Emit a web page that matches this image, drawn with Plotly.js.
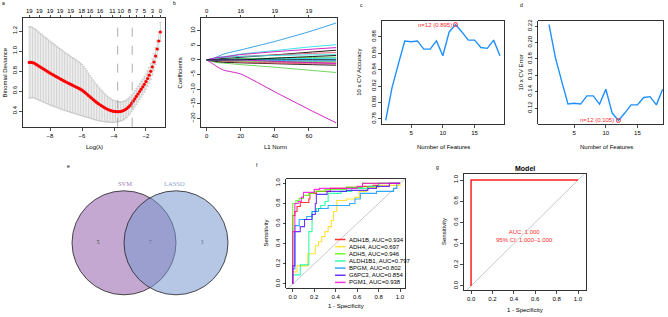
<!DOCTYPE html>
<html><head><meta charset="utf-8">
<script src="https://cdn.plot.ly/plotly-3.0.1.min.js"></script>
<style>html,body{margin:0;padding:0;background:#fff}#chart{width:668px;height:317px}</style>
</head><body><div id="chart"></div>
<script>
// ---------- Panel a: LASSO CV ----------
const logLambda = [-9.3,-9.2,-9.1,-9.0,-8.9,-8.8,-8.7,-8.6,-8.5,-8.4,-8.3,-8.2,-8.1,-8.0,-7.9,-7.8,-7.7,-7.6,-7.5,-7.4,-7.3,-7.2,-7.1,-7.0,-6.9,-6.8,-6.7,-6.6,-6.5,-6.4,-6.3,-6.2,-6.1,-6.0,-5.9,-5.8,-5.7,-5.6,-5.5,-5.4,-5.3,-5.2,-5.1,-5.0,-4.9,-4.8,-4.7,-4.6,-4.5,-4.4,-4.3,-4.2,-4.1,-4.0,-3.9,-3.8,-3.7,-3.6,-3.5,-3.4,-3.3,-3.2,-3.1,-3.0,-2.9,-2.8,-2.7,-2.6,-2.5,-2.4,-2.3,-2.2,-2.1,-2.0,-1.9,-1.8,-1.7,-1.6,-1.5,-1.4,-1.3,-1.2,-1.1];
const binomialDeviance = [0.886,0.886,0.884,0.879,
 0.869,0.859,0.849,0.839,0.829,0.819,0.809,0.799,0.789,0.779,
 0.770,0.761,0.752,0.743,0.734,0.725,0.716,0.707,0.698,0.690,
 0.682,0.674,0.666,0.658,0.650,0.642,0.634,0.626,0.618,0.608,
 0.596,0.583,0.570,0.556,0.542,0.528,0.514,0.501,0.488,0.476,
 0.465,0.454,0.444,0.434,0.425,0.417,0.410,0.404,0.399,0.396,
 0.394,0.393,0.393,0.395,0.399,0.405,0.413,0.424,0.438,0.455,
 0.476,0.498,0.522,0.546,0.570,0.594,0.618,0.642,0.667,0.694,
 0.724,0.758,0.797,0.841,0.890,0.950,1.020,1.100,1.190];
const devianceSE = [0.358,0.355,0.352,0.349,0.346,0.343,0.340,0.337,0.334,0.331,0.328,0.325,0.322,0.319,0.316,0.313,0.310,0.307,0.304,0.301,0.298,0.295,0.292,0.289,0.286,0.283,0.280,0.277,0.274,0.271,0.268,0.265,0.262,0.258,
 0.250,0.241,0.232,0.223,0.214,0.205,0.196,0.188,0.180,0.172,
 0.164,0.156,0.149,0.142,0.135,0.129,0.123,0.118,0.113,0.109,
 0.105,0.102,0.099,0.096,0.094,0.092,0.090,0.088,0.086,0.085,
 0.084,0.083,0.082,0.081,0.080,0.080,0.079,0.079,0.078,0.078,
 0.078,0.079,0.080,0.081,0.083,0.085,0.088,0.091,0.095];
const countTickPos = [-9.3,-8.67,-8.0,-7.375,-6.71,-6.02,-5.5,-4.875,-4.1,-3.58,-3.04,-2.58,-2.1,-1.6,-1.1];
const countTickText = ['19','19','19','19','19','18','16','16','11','10','8','7','5','3','0'];
const lambdaMinLog = -3.77, lambda1seLog = -2.86;

// ---------- Panel b: LASSO coefficient paths ----------
const l1Norm = [0,3,6,10,20,40,60,76];
const coefPaths = [
 [0,0.2,0.4,0.5,0.9,1.7,2.6,3.3],
 [0,-0.3,-0.5,-0.6,-0.7,-0.8,-0.9,-1.0],
 [0,-0.5,-0.9,-1.1,-1.6,-2.5,-3.5,-4.3],
 [0,0.3,1.0,2.0,3.4,6.3,9.6,12.6],
 [0,0.4,0.8,1.1,2.0,3.2,4.4,5.2],
 [0,-1.1,-2.3,-3.5,-4.8,-10.9,-16.9,-21.5],
 [0,-0.3,-0.6,-0.8,-1.0,-1.3,-1.6,-1.8],
 [0,0.3,0.6,0.8,1.2,1.7,2.2,2.5],
 [0,0,-0.2,-0.4,-0.6,-0.6,-0.6,-0.6],
 [0,0,0,0.2,0.5,0.4,0.3,0.3],
 [0,0.2,0.5,0.8,1.2,1.5,1.7,1.8],
 [0,0.4,0.8,1.0,1.8,2.8,3.6,4.2],
 [0,0,0.1,0.3,0.2,0.1,0.05,0.0],
 [0,0,-0.2,-0.4,-0.8,-1.1,-1.3,-1.4],
 [0,0,0,0.2,0.4,0.6,0.8,0.9],
 [0,0,0,0,0,-0.2,-0.3,-0.3],
 [0,0,0,0,0.1,0.3,0.5,0.6],
 [0,0,0,0,0,-0.5,-0.9,-1.2],
 [0,0,0,0,0,0.6,1.1,1.5]];
const pathColors = ['#000000','#DF536B','#61D04F','#2297E6','#28E2E5','#CD0BBC'];
const l1TickPos = [0,20,40,60];
const l1TickText = ['0','16','19','19'];

// ---------- Panels c, d: SVM-RFE ----------
const nFeatures = [1,2,3,4,5,6,7,8,9,10,11,12,13,14,15,16,17,18,19];
const cvAccuracy = [0.778,0.818,0.847,0.875,0.874,0.875,0.865,0.865,0.875,0.857,0.886,0.895,0.886,0.876,0.876,0.867,0.866,0.876,0.857];
const cvError = [0.222,0.182,0.153,0.125,0.126,0.125,0.135,0.135,0.125,0.143,0.114,0.105,0.114,0.124,0.124,0.133,0.134,0.124,0.143];

// ---------- Panel e: Venn ----------
const vennSets = ['SVM','LASSO'];
const vennCounts = [5,7,3];

// ---------- Panel f: ROC per gene ----------
const rocGenes = ['ADH1B','ADH4','ADH5','ALDH1B1','BPGM','G6PC3','PGM1'];
const rocAUC = [0.934,0.697,0.946,0.797,0.802,0.854,0.938];
const rocColors = ['#FF0000','#FFDB00','#49FF00','#00FF92','#0092FF','#4900FF','#FF00DB'];
const fprADH1B = [0,0,0.02,0.04,0.07,0.15,0.16,0.22,0.35,0.5,0.65,0.75,0.8,1];
const tprADH1B = [0,0.68,0.72,0.77,0.81,0.845,0.9,0.92,0.95,0.96,0.97,0.98,1,1];
const fprADH4 = [0,0,0.04,0.14,0.21,0.24,0.27,0.30,0.33,0.36,0.38,0.41,0.5,0.58,0.62,0.69,0.8,1];
const tprADH4 = [0,0.12,0.18,0.30,0.38,0.42,0.47,0.52,0.57,0.63,0.72,0.83,0.845,0.86,0.92,0.96,0.98,1];
const fprADH5 = [0,0,0.03,0.06,0.1,0.15,0.2,0.3,0.5,0.65,1];
const tprADH5 = [0,0.8,0.83,0.85,0.88,0.9,0.92,0.94,0.96,1,1];
const fprALDH1B1 = [0,0,0.07,0.15,0.15,0.18,0.22,0.26,0.3,0.33,0.45,0.55,0.7,0.8,1];
const tprALDH1B1 = [0,0.09,0.19,0.24,0.52,0.72,0.75,0.78,0.82,0.9,0.92,0.95,0.97,1,1];
const fprBPGM = [0,0,0.02,0.06,0.13,0.18,0.24,0.33,0.53,0.58,0.63,0.78,0.94,0.97,1];
const tprBPGM = [0,0.15,0.58,0.64,0.67,0.72,0.75,0.78,0.8,0.845,0.9,0.92,0.95,1,1];
const fprG6PC3 = [0,0,0.02,0.07,0.11,0.18,0.21,0.22,0.32,0.5,0.7,0.78,0.9,1];
const tprG6PC3 = [0,0.18,0.52,0.57,0.64,0.69,0.8,0.89,0.92,0.93,0.95,0.97,1,1];
const fprPGM1 = [0,0,0.02,0.05,0.08,0.1,0.2,0.25,0.6,0.65,1];
const tprPGM1 = [0,0.52,0.8,0.82,0.86,0.91,0.94,0.95,0.97,1,1];
const rocFpr = [fprADH1B,fprADH4,fprADH5,fprALDH1B1,fprBPGM,fprG6PC3,fprPGM1];
const rocTpr = [tprADH1B,tprADH4,tprADH5,tprALDH1B1,tprBPGM,tprG6PC3,tprPGM1];

// ---------- Panel g: model ROC ----------
const modelFpr = [0,0,1];
const modelTpr = [0,1,1];
const modelAUC = 1.000, modelCILow = 1.000, modelCIHigh = 1.000;

// ================= drawing =================
const W=668,H=317;
const fx=p=>p/W, fy=p=>1-p/H;
const F='"Liberation Sans", Arial, sans-serif';
const FS=6;
function ax(o){return Object.assign({showline:true,linecolor:'#000',linewidth:0.8,mirror:true,ticks:'outside',ticklen:3,tickwidth:0.7,tickcolor:'#000',showgrid:false,zeroline:false,tickangle:0,tickfont:{family:F,size:FS,color:'#000'},fixedrange:true},o);}
function yax(o){return ax(Object.assign({tickangle:-90},o));}

const traces=[];
// a
traces.push({x:logLambda,y:binomialDeviance,xaxis:'x',yaxis:'y',type:'scatter',mode:'markers',
  marker:{color:'#ff0000',size:3.2},
  error_y:{type:'data',array:devianceSE,visible:true,color:'#b4b4b4',thickness:0.6,width:1.2},hoverinfo:'skip'});
traces.push({x:logLambda,y:binomialDeviance,xaxis:'x2',yaxis:'y',type:'scatter',mode:'markers',marker:{opacity:0},hoverinfo:'skip'});
// b
coefPaths.forEach((p,i)=>traces.push({x:l1Norm,y:p,xaxis:'x3',yaxis:'y2',type:'scatter',mode:'lines',
  line:{color:pathColors[i%6],width:0.9,shape:'spline',smoothing:0.5},hoverinfo:'skip'}));
traces.push({x:l1Norm,y:coefPaths[0],xaxis:'x4',yaxis:'y2',type:'scatter',mode:'markers',marker:{opacity:0},hoverinfo:'skip'});
// c
const bestIdx = cvAccuracy.indexOf(Math.max(...cvAccuracy));
traces.push({x:nFeatures,y:cvAccuracy,xaxis:'x5',yaxis:'y3',type:'scatter',mode:'lines',line:{color:'#1E90FF',width:1.4},hoverinfo:'skip'});
traces.push({x:[nFeatures[bestIdx]],y:[cvAccuracy[bestIdx]],xaxis:'x5',yaxis:'y3',type:'scatter',mode:'markers',marker:{color:'#ff3030',size:4,symbol:'circle-open',line:{width:1}},hoverinfo:'skip'});
// d
const minIdx = cvError.indexOf(Math.min(...cvError));
traces.push({x:nFeatures,y:cvError,xaxis:'x6',yaxis:'y4',type:'scatter',mode:'lines',line:{color:'#1E90FF',width:1.4},hoverinfo:'skip'});
traces.push({x:[nFeatures[minIdx]],y:[cvError[minIdx]],xaxis:'x6',yaxis:'y4',type:'scatter',mode:'markers',marker:{color:'#ff3030',size:4,symbol:'circle-open',line:{width:1}},hoverinfo:'skip'});
// e (counts)
traces.push({x:[-1,0,1],y:[0,0,0],text:vennCounts.map(String),xaxis:'x7',yaxis:'y5',type:'scatter',mode:'text',
  textfont:{family:'"Liberation Serif", serif',size:5.5,color:'#333'},hoverinfo:'skip'});
// f
traces.push({x:[-0.2,1.2],y:[-0.2,1.2],xaxis:'x8',yaxis:'y6',type:'scatter',mode:'lines',line:{color:'#c8c8c8',width:1},hoverinfo:'skip'});
rocGenes.forEach((g,i)=>traces.push({x:rocFpr[i],y:rocTpr[i],xaxis:'x8',yaxis:'y6',type:'scatter',mode:'lines',
  line:{color:rocColors[i],width:1.1,shape:'hv'},opacity:0.8,hoverinfo:'skip'}));
// g
traces.push({x:[-0.2,1.2],y:[-0.2,1.2],xaxis:'x9',yaxis:'y7',type:'scatter',mode:'lines',line:{color:'#c8c8c8',width:1},hoverinfo:'skip'});
traces.push({x:modelFpr,y:modelTpr,xaxis:'x9',yaxis:'y7',type:'scatter',mode:'lines',line:{color:'#ff2020',width:1.5},hoverinfo:'skip'});

const yA=[fy(126.7),fy(18.3)], yC=[fy(124.3),fy(20.7)];
const layout={
  width:W,height:H,margin:{l:0,r:0,t:0,b:0},paper_bgcolor:'#fff',plot_bgcolor:'#fff',showlegend:false,
  font:{family:F,size:FS,color:'#000'},
  xaxis:ax({domain:[fx(22.7),fx(165)],range:[-9.71,-0.81],anchor:'y',tickvals:[-8,-6,-4,-2]}),
  yaxis:yax({domain:yA,range:[0.243,1.327],anchor:'x',tickvals:[0.4,0.6,0.8,1.0,1.2],tickformat:'.1f'}),
  xaxis2:ax({overlaying:'x',side:'top',anchor:'y',range:[-9.71,-0.81],tickvals:countTickPos,ticktext:countTickText,showline:false,mirror:false,ticklen:2,tickangle:0}),
  xaxis3:ax({domain:[fx(200.7),fx(336.7)],range:[-3.5,76.3],anchor:'y2',tickvals:[0,20,40,60]}),
  yaxis2:yax({domain:yA,range:[-22.8,14.2],anchor:'x3',tickvals:[-20,-15,-10,-5,0,5,10]}),
  xaxis4:ax({overlaying:'x3',side:'top',anchor:'y2',range:[-3.5,76.3],tickvals:l1TickPos,ticktext:l1TickText,showline:false,mirror:false,ticklen:2,tickangle:0}),
  xaxis5:ax({domain:[fx(381.7),fx(504.3)],range:[0.37,19.68],anchor:'y3',tickvals:[5,10,15]}),
  yaxis3:yax({domain:yC,range:[0.7733,0.8997],anchor:'x5',tickvals:[0.78,0.80,0.82,0.84,0.86,0.88,0.90],tickformat:'.2f'}),
  xaxis6:ax({domain:[fx(538.3),fx(663.3)],range:[-0.7,19.1],anchor:'y4',tickvals:[5,10,15]}),
  yaxis4:yax({domain:yC,range:[0.1003,0.2267],anchor:'x6',tickvals:[0.10,0.12,0.14,0.16,0.18,0.20,0.22],tickformat:'.2f'}),
  xaxis7:{domain:[fx(20),fx(280)],range:[-2.5,2.5],anchor:'y5',visible:false,fixedrange:true},
  yaxis5:{domain:[fy(315.6),fy(170)],range:[-1.4,1.4],anchor:'x7',visible:false,fixedrange:true},
  xaxis8:ax({domain:[fx(286.3),fx(405.4)],range:[-0.06,1.05],anchor:'y6',tickvals:[0,0.2,0.4,0.6,0.8,1.0],tickformat:'.1f'}),
  yaxis6:yax({domain:[fy(288),fy(179.3)],range:[-0.04,1.04],anchor:'x8',tickvals:[0,0.2,0.4,0.6,0.8,1.0],tickformat:'.1f'}),
  xaxis9:ax({domain:[fx(464),fx(585.7)],range:[-0.066,1.072],anchor:'y7',tickvals:[0,0.2,0.4,0.6,0.8,1.0],tickformat:'.1f'}),
  yaxis7:yax({domain:[fy(290),fy(174.3)],range:[-0.038,1.054],anchor:'x9',tickvals:[0,0.2,0.4,0.6,0.8,1.0],tickformat:'.1f'}),
  shapes:[],annotations:[]
};

// dashed lambda lines
[lambdaMinLog,lambda1seLog].forEach(v=>layout.shapes.push({type:'line',xref:'x',yref:'y domain',x0:v,x1:v,y0:0,y1:1,line:{color:'#999',width:0.8,dash:'dash'}}));
// Venn circles
layout.shapes.push({type:'circle',xref:'x7',yref:'y5',x0:-1.5,x1:0.5,y0:-1,y1:1,fillcolor:'#C5A8D2',line:{color:'#222',width:0.8},layer:'below'});
layout.shapes.push({type:'circle',xref:'x7',yref:'y5',x0:-0.5,x1:1.5,y0:-1,y1:1,fillcolor:'rgba(118,151,207,0.54)',line:{color:'#222',width:0.8},layer:'above'});
// ROC legend (placed in pixels, bottom-right of panel f)
const legRow0=239.5, legRowStep=7.15;
rocGenes.forEach((g,i)=>{
  const yp=fy(legRow0+i*legRowStep);
  layout.shapes.push({type:'line',xref:'paper',yref:'paper',x0:fx(335),x1:fx(345.5),y0:yp,y1:yp,line:{color:rocColors[i],width:1.5},opacity:0.8});
  layout.annotations.push({xref:'paper',yref:'paper',x:fx(347),y:yp,text:`${g}, AUC=${rocAUC[i].toFixed(3)}`,showarrow:false,xanchor:'left',yanchor:'middle',font:{family:F,size:FS,color:'#000'}});
});

function ann(px,py,text,o){layout.annotations.push(Object.assign({xref:'paper',yref:'paper',x:fx(px),y:fy(py),text:text,showarrow:false,xanchor:'center',yanchor:'middle',font:{family:F,size:FS,color:'#000'}},o||{}));}
// panel letters
[['a',3,3],['b',174,3],['c',361,5],['d',521,5],['e',68,166],['f',257,165],['g',437,167]].forEach(l=>ann(l[1],l[2],l[0],{font:{family:F,size:5,color:'#000'}}));
// axis titles
ann(4,72.5,'Binomial Deviance',{textangle:-90});
ann(94,147,'Log(λ)');
ann(179,72.5,'Coefficients',{textangle:-90});
ann(275,146.7,'L1 Norm');
ann(358.3,72.5,'10 x CV Accuracy',{textangle:-90});
ann(443.3,146.7,'Number of Features');
ann(520,72.5,'10 x CV Error',{textangle:-90});
ann(606,146.7,'Number of Features');
ann(265,233.5,'Sensitivity',{textangle:-90});
ann(345.8,306,'1 - Specificity');
ann(444,232,'Sensitivity',{textangle:-90});
ann(524.8,310,'1 - Specificity');
ann(525,168.3,'<b>Model</b>',{font:{family:F,size:7,color:'#000'}});
// c, d best annotations
layout.annotations.push({xref:'x5',yref:'y3',x:nFeatures[bestIdx],y:cvAccuracy[bestIdx],text:`n=${nFeatures[bestIdx]} (${cvAccuracy[bestIdx].toFixed(3)})`,showarrow:false,xanchor:'right',yanchor:'middle',xshift:-2,font:{family:F,size:FS,color:'#ff2a2a'}});
layout.annotations.push({xref:'x6',yref:'y4',x:nFeatures[minIdx],y:cvError[minIdx],text:`n=${nFeatures[minIdx]} (${cvError[minIdx].toFixed(3)})`,showarrow:false,xanchor:'right',yanchor:'middle',xshift:-2,font:{family:F,size:FS,color:'#ff2a2a'}});
// Venn labels
layout.annotations.push({xref:'x7',yref:'y5',x:-0.48,y:1.14,text:vennSets[0],showarrow:false,font:{family:'"Liberation Serif", serif',size:6.5,color:'#9A78B6'}});
layout.annotations.push({xref:'x7',yref:'y5',x:0.48,y:1.14,text:vennSets[1],showarrow:false,font:{family:'"Liberation Serif", serif',size:6.5,color:'#8AA2CC'}});
// g annotation
layout.annotations.push({xref:'x9',yref:'y7',x:0.5,y:0.47,text:`AUC: ${modelAUC.toFixed(3)}<br>95% CI: ${modelCILow.toFixed(3)}–${modelCIHigh.toFixed(3)}`,showarrow:false,xanchor:'center',yanchor:'middle',font:{family:F,size:FS,color:'#ff2a2a'}});

Plotly.newPlot('chart',traces,layout,{staticPlot:true,displayModeBar:false});
</script></body></html>
